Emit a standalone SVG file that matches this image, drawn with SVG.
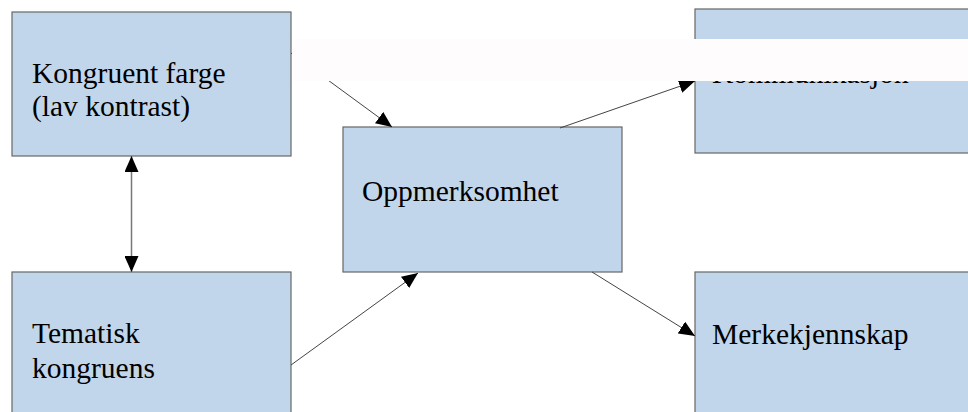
<svg xmlns="http://www.w3.org/2000/svg" width="968" height="412" viewBox="0 0 968 412">
<style>
.box{fill:#c2d6eb;stroke:#666;stroke-width:1.2}
.t{font-family:"Liberation Serif","Times New Roman",serif;font-size:29.5px;fill:#000}
.c{stroke:#444;stroke-width:1;fill:none}
.g{stroke:#777;stroke-width:1.5;fill:none}
</style>
<defs>
<marker id="ah" viewBox="0 0 16 14" refX="16" refY="7" markerWidth="16" markerHeight="14" markerUnits="userSpaceOnUse" orient="auto-start-reverse">
<path d="M0,0 L16,7 L0,14 Z" fill="#000"/>
</marker>
</defs>
<rect width="968" height="412" fill="#fff"/>
<g id="kongruent-farge">
<rect class="box" x="12" y="12" width="279" height="144"/>
<text class="t" x="32" y="83">Kongruent farge</text>
<text class="t" x="32" y="116">(lav kontrast)</text>
</g>
<g id="tematisk-kongruens">
<rect class="box" x="12" y="272" width="279" height="150"/>
<text class="t" x="32" y="343">Tematisk</text>
<text class="t" x="32" y="378">kongruens</text>
</g>
<g id="oppmerksomhet">
<rect class="box" x="343" y="127" width="279" height="145"/>
<text class="t" x="362" y="201">Oppmerksomhet</text>
</g>
<g id="kommunikasjon">
<rect class="box" x="695" y="9" width="290" height="144"/>
<text class="t" x="712" y="83">Kommunikasjon</text>
</g>
<g id="merkekjennskap">
<rect class="box" x="695" y="272" width="290" height="150"/>
<text class="t" x="712" y="344">Merkekjennskap</text>
</g>
<g id="connectors">
<line class="c" x1="291" y1="53" x2="392" y2="127" marker-end="url(#ah)"/>
<line class="c" x1="560" y1="128" x2="695" y2="81" marker-end="url(#ah)"/>
<line class="g" x1="131.5" y1="156" x2="131.5" y2="272" marker-start="url(#ah)" marker-end="url(#ah)"/>
<line class="c" x1="291" y1="365" x2="418" y2="273" marker-end="url(#ah)"/>
<line class="c" x1="592" y1="272" x2="695" y2="336" marker-end="url(#ah)"/>
</g>
<rect x="292" y="39" width="676" height="42" fill="#fffcfd"/>
</svg>
